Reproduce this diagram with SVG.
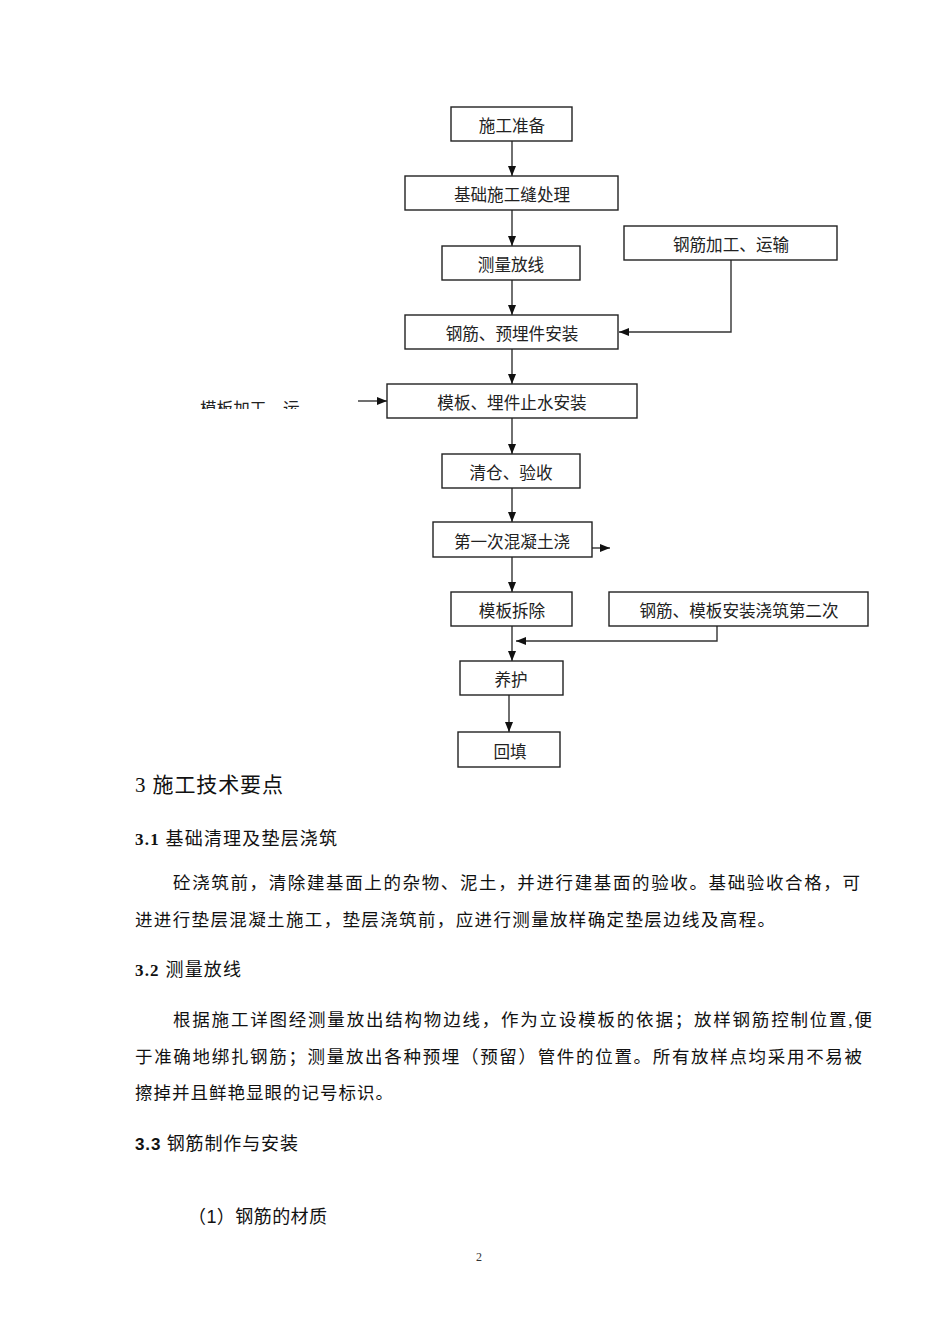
<svg xmlns="http://www.w3.org/2000/svg" width="950" height="1344" viewBox="0 0 950 1344">
<style>
.box{fill:#fff;stroke:#222;stroke-width:1.4}
.bt{font-family:"Liberation Serif","Noto Sans CJK SC",serif;font-size:16.6px;fill:#222;text-anchor:middle}
.con{fill:none;stroke:#333;stroke-width:1.4}
.body{font-family:"Liberation Serif","Noto Sans CJK SC",serif;font-size:17.5px;fill:#111}
.h{font-family:"Liberation Serif","Noto Sans CJK SC",serif;font-size:18px;fill:#111}
</style>
<defs>
<marker id="ar" markerUnits="userSpaceOnUse" markerWidth="10" markerHeight="10" viewBox="0 0 10 10" refX="10" refY="5" orient="auto">
<path d="M0,1 L10,5 L0,9 Z" fill="#111"/>
</marker>
<clipPath id="clipL"><rect x="190" y="390" width="140" height="19"/></clipPath>
</defs>
<rect width="950" height="1344" fill="#fff"/>

<g id="connectors">
<line class="con" x1="512" y1="141" x2="512" y2="176" marker-end="url(#ar)"/>
<line class="con" x1="512" y1="210" x2="512" y2="246" marker-end="url(#ar)"/>
<line class="con" x1="512" y1="280" x2="512" y2="315" marker-end="url(#ar)"/>
<line class="con" x1="512" y1="349" x2="512" y2="384" marker-end="url(#ar)"/>
<line class="con" x1="512" y1="418" x2="512" y2="454" marker-end="url(#ar)"/>
<line class="con" x1="512" y1="488" x2="512" y2="522" marker-end="url(#ar)"/>
<line class="con" x1="512" y1="557" x2="512" y2="592" marker-end="url(#ar)"/>
<line class="con" x1="512" y1="626" x2="512" y2="661" marker-end="url(#ar)"/>
<line class="con" x1="509" y1="695" x2="509" y2="732" marker-end="url(#ar)"/>
<polyline class="con" points="731,260 731,332 619,332" marker-end="url(#ar)"/>
<polyline class="con" points="717,626 717,641 516,641" marker-end="url(#ar)"/>
<line class="con" x1="592" y1="548" x2="610" y2="548" marker-end="url(#ar)"/>
<line class="con" x1="358" y1="401" x2="387" y2="401" marker-end="url(#ar)"/>
</g>

<g id="n1"><rect class="box" x="451" y="107" width="121" height="34"/><text class="bt" x="512" y="132">施工准备</text></g>
<g id="n2"><rect class="box" x="405" y="176" width="213" height="34"/><text class="bt" x="512" y="201">基础施工缝处理</text></g>
<g id="n3"><rect class="box" x="442" y="246" width="138" height="34"/><text class="bt" x="511" y="271">测量放线</text></g>
<g id="n3b"><rect class="box" x="624" y="226" width="213" height="34"/><text class="bt" x="731" y="251">钢筋加工、运输</text></g>
<g id="n4"><rect class="box" x="405" y="315" width="213" height="34"/><text class="bt" x="512" y="340">钢筋、预埋件安装</text></g>
<g id="n5"><rect class="box" x="387" y="384" width="250" height="34"/><text class="bt" x="512" y="409">模板、埋件止水安装</text></g>
<g id="n5b"><text class="bt" x="200" y="415" style="text-anchor:start" clip-path="url(#clipL)">模板加工、运</text></g>
<g id="n6"><rect class="box" x="442" y="454" width="138" height="34"/><text class="bt" x="511" y="479">清仓、验收</text></g>
<g id="n7"><rect class="box" x="433" y="522" width="159" height="35"/><text class="bt" x="512" y="548">第一次混凝土浇</text></g>
<g id="n8"><rect class="box" x="451" y="592" width="121" height="34"/><text class="bt" x="512" y="617">模板拆除</text></g>
<g id="n8b"><rect class="box" x="609" y="592" width="259" height="34"/><text class="bt" x="739" y="617">钢筋、模板安装浇筑第二次</text></g>
<g id="n9"><rect class="box" x="460" y="661" width="103" height="34"/><text class="bt" x="511" y="686">养护</text></g>
<g id="n10"><rect class="box" x="458" y="732" width="102" height="35"/><text class="bt" x="510" y="758">回填</text></g>

<g id="text">
<text x="135" y="792" textLength="148" lengthAdjust="spacing" style="font-family:'Liberation Serif','Noto Sans CJK SC',serif;font-size:21px;fill:#111">3 施工技术要点</text>
<text class="h" x="135" y="845" textLength="202" lengthAdjust="spacing"><tspan font-weight="bold" font-size="17">3.1</tspan> 基础清理及垫层浇筑</text>
<text class="body" x="173" y="889" textLength="687" lengthAdjust="spacing">砼浇筑前，清除建基面上的杂物、泥土，并进行建基面的验收。基础验收合格，可</text>
<text class="body" x="135" y="926" textLength="640" lengthAdjust="spacing">进进行垫层混凝土施工，垫层浇筑前，应进行测量放样确定垫层边线及高程。</text>
<text class="h" x="135" y="976" textLength="106" lengthAdjust="spacing"><tspan font-weight="bold" font-size="17">3.2</tspan> 测量放线</text>
<text class="body" x="173" y="1026" textLength="699" lengthAdjust="spacing">根据施工详图经测量放出结构物边线，作为立设模板的依据；放样钢筋控制位置,便</text>
<text class="body" x="135" y="1063" textLength="727" lengthAdjust="spacing">于准确地绑扎钢筋；测量放出各种预埋（预留）管件的位置。所有放样点均采用不易被</text>
<text class="body" x="135" y="1099" textLength="258" lengthAdjust="spacing">擦掉并且鲜艳显眼的记号标识。</text>
<text class="h" x="135" y="1150" textLength="163" lengthAdjust="spacing"><tspan font-weight="bold" font-family="Liberation Sans" font-size="17">3.3</tspan> 钢筋制作与安装</text>
<text class="h" x="188" y="1223" textLength="139" lengthAdjust="spacing">（<tspan font-family="Liberation Sans">1</tspan>）钢筋的材质</text>
<text x="479" y="1261" style="font-family:'Liberation Serif',serif;font-size:12px;fill:#333;text-anchor:middle">2</text>
</g>
</svg>
